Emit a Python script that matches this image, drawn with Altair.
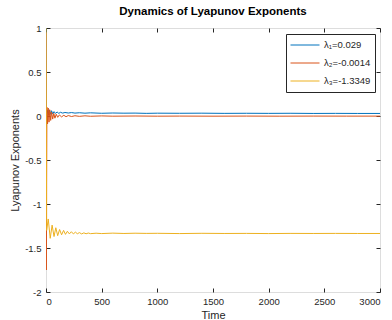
import altair as alt
import pandas as pd

# λ1 (blue)
t1 = [0, 3, 8, 15, 22, 30, 40, 50, 60, 72, 85, 100, 115, 130, 150, 170, 200, 230, 260, 300, 350,
      400, 500, 600, 700, 800, 900, 1000, 1200, 1400, 1600, 1800, 2000, 2200, 2400, 2600, 2800, 3000]
v1 = [1.0, -0.12, 0.02, 0.065, 0.01, 0.07, 0.02, 0.06, 0.025, 0.05, 0.03, 0.045, 0.03, 0.042, 0.033, 0.04, 0.034, 0.039, 0.033, 0.037, 0.032,
      0.036, 0.031, 0.034, 0.032, 0.033, 0.030, 0.032, 0.031, 0.032, 0.030, 0.031, 0.030, 0.031, 0.029, 0.030, 0.029, 0.029]

# λ2 (orange)
t2 = [0, 3, 8, 14, 20, 27, 34, 42, 50, 60, 70, 80, 92, 105, 120, 140, 160, 180, 200, 230, 260, 300,
      350, 400, 500, 600, 800, 1000, 1200, 1500, 1800, 2100, 2400, 2700, 3000]
v2 = [0.95, -1.75, 0.10, -0.09, 0.09, -0.07, 0.07, -0.05, 0.045, -0.035, 0.03, -0.025, 0.02, -0.015, 0.012, -0.01, 0.008, -0.008, 0.005, -0.006, 0.003, -0.004,
      0.002, -0.003, 0.001, -0.002, 0.0, -0.002, -0.001, -0.002, -0.001, -0.002, -0.001, -0.0015, -0.0014]

# λ3 (yellow)
t3 = [0, 6, 20, 38, 55, 72, 88, 105, 122, 140, 158, 175, 192, 210, 228, 246, 264, 282, 300, 320, 340,
      360, 380, 400, 450, 500, 600, 700, 800, 900, 1000, 1200, 1400, 1600, 1800, 2000, 2200, 2400, 2600, 2800, 3000]
v3 = [1.0, -1.3, -1.17, -1.39, -1.24, -1.37, -1.27, -1.36, -1.29, -1.35, -1.30, -1.345, -1.31, -1.34, -1.315, -1.34, -1.32, -1.338, -1.325, -1.34, -1.328,
      -1.338, -1.33, -1.337, -1.332, -1.336, -1.331, -1.335, -1.332, -1.334, -1.333, -1.336, -1.333, -1.335, -1.334, -1.336, -1.334, -1.335, -1.334, -1.335, -1.335]

labels = ["λ₁=0.029", "λ₂=-0.0014", "λ₃=-1.3349"]
colors = ["#0072BD", "#D95319", "#EDB120"]
x_ticks = [0, 500, 1000, 1500, 2000, 2500, 3000]
y_ticks = [-2, -1.5, -1, -0.5, 0, 0.5, 1]

rows = []
for lab, ts, vs in zip(labels, [t1, t2, t3], [v1, v2, v3]):
    for i, (t, v) in enumerate(zip(ts, vs)):
        rows.append({"t": t, "v": v, "s": lab, "o": i})
df = pd.DataFrame(rows)

FONT = "Liberation Sans"
AX = "#262626"

xscale = alt.Scale(domain=[0, 3000], nice=False, zero=False)
yscale = alt.Scale(domain=[-2, 1], nice=False, zero=False)

common_axis = dict(grid=False, domain=False, tickSize=4, offset=-4, tickColor=AX,
                   labelColor=AX, labelFont=FONT, labelFontSize=9.5, titleFont=FONT,
                   titleFontSize=11, titleColor=AX, titleFontWeight="normal",
                   labelExpr="'' + datum.value")

lines = alt.Chart(df).mark_line(strokeWidth=1, clip=True).encode(
    x=alt.X("t:Q", scale=xscale,
            axis=alt.Axis(title="Time", values=x_ticks, labelPadding=4, titlePadding=4,
                          orient="bottom", **common_axis)),
    y=alt.Y("v:Q", scale=yscale,
            axis=alt.Axis(title="Lyapunov Exponents", values=y_ticks, labelPadding=5,
                          titlePadding=4, orient="left", **common_axis)),
    stroke=alt.Stroke("s:N", scale=alt.Scale(domain=labels, range=colors),
                      legend=alt.Legend(title=None, orient="none", legendX=240, legendY=6,
                                        symbolType="stroke", symbolSize=841, symbolStrokeWidth=1,
                                        labelFont=FONT, labelFontSize=9.5, labelColor=AX,
                                        strokeColor=AX, fillColor="white", padding=4,
                                        rowPadding=4, clipHeight=14, labelOffset=4)),
    order="o:Q",
)

frame_axis = dict(grid=False, domain=False, tickSize=4, offset=-4, tickColor=AX,
                  labels=False, title=None)

ticks = alt.Chart(df).mark_point(opacity=0).encode(
    x=alt.X("t:Q", scale=xscale, axis=alt.Axis(orient="top", values=x_ticks, **frame_axis)),
    y=alt.Y("v:Q", scale=yscale, axis=alt.Axis(orient="right", values=y_ticks, **frame_axis)),
)

chart = alt.layer(lines, ticks).resolve_axis(x="independent", y="independent").properties(
    width=334, height=264,
    autosize=alt.AutoSizeParams(type="none"),
    padding={"left": 46, "top": 28, "right": 12, "bottom": 28},
    title=alt.Title("Dynamics of Lyapunov Exponents", font=FONT, fontSize=11.5,
                    fontWeight="bold", color="#000000", anchor="middle", offset=6),
).configure_view(stroke=AX, strokeWidth=1).configure(background="white")

chart.save("out.html", embed_options={"renderer": "svg", "actions": False})
